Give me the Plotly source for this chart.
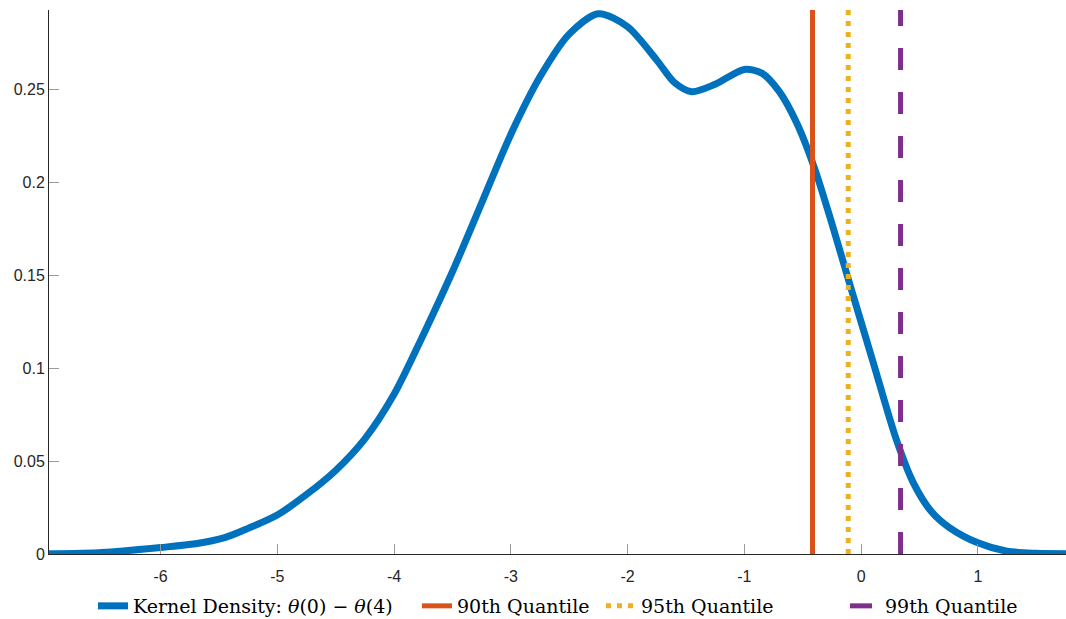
import plotly.graph_objects as go

# Kernel density curve
kd_x = [-6.955, -6.5, -6.0, -5.7, -5.45, -5.25, -5.0, -4.75, -4.5, -4.25, -4.0, -3.75, -3.5,
        -3.25, -3.0, -2.75, -2.5, -2.25, -2.0, -1.75, -1.6, -1.45, -1.25, -1.0, -0.85, -0.7,
        -0.55, -0.4, -0.25, -0.1, 0.1, 0.3, 0.45, 0.6, 0.75, 1.0, 1.25, 1.5, 1.755]
kd_y = [0.0001, 0.0008, 0.0035, 0.0055, 0.0088, 0.0138, 0.021, 0.032, 0.045, 0.062, 0.086,
        0.118, 0.152, 0.189, 0.226, 0.257, 0.280, 0.291, 0.284, 0.266, 0.254, 0.249, 0.253,
        0.261, 0.259, 0.249, 0.232, 0.208, 0.178, 0.146, 0.104, 0.062, 0.038, 0.023, 0.0145,
        0.006, 0.0015, 0.0004, 0.0002]

q90, q95, q99 = -0.416, -0.11, 0.338
y_top = 0.293

x_ticks = [-6, -5, -4, -3, -2, -1, 0, 1]
x_tick_text = ["-6", "-5", "-4", "-3", "-2", "-1", "0", "1"]
y_ticks = [0, 0.05, 0.1, 0.15, 0.2, 0.25]
y_tick_text = ["0", "0.05", "0.1", "0.15", "0.2", "0.25"]

blue, orange, yellow, purple = "#0072BD", "#D95319", "#EDB120", "#7E2F8E"

fig = go.Figure()
fig.add_trace(go.Scatter(x=kd_x, y=kd_y, mode="lines",
                         line=dict(color=blue, width=7, shape="spline", smoothing=0.8),
                         name="Kernel Density: <i>θ</i>(0) − <i>θ</i>(4)", legend="legend"))
fig.add_trace(go.Scatter(x=[q90, q90], y=[0, y_top], mode="lines", line=dict(color=orange, width=5),
                         name="90th Quantile", legend="legend2"))
fig.add_trace(go.Scatter(x=[q95, q95], y=[0, y_top], mode="lines",
                         line=dict(color=yellow, width=5, dash="5px,6px"),
                         name="95th Quantile", legend="legend3"))
fig.add_trace(go.Scatter(x=[q99, q99], y=[0, y_top], mode="lines",
                         line=dict(color=purple, width=5, dash="22px,22px"),
                         name="99th Quantile", legend="legend4"))

W, H = 1066, 619
L, R, T, B = 49, 0, 10, H - 554


def cx(px):
    return px / W


def cy(py):
    return 1 - py / H


leg_font = dict(family="DejaVu Serif", size=19, color="#000000")
common = dict(orientation="h", yanchor="middle", y=cy(606), xanchor="left",
              xref="container", yref="container",
              font=leg_font, bgcolor="rgba(0,0,0,0)", borderwidth=0, itemwidth=30)

fig.update_layout(
    width=W, height=H,
    margin=dict(l=L, r=R, t=T, b=B, autoexpand=False),
    plot_bgcolor="white", paper_bgcolor="white",
    showlegend=True,
    legend=dict(x=cx(133 - 40), **common),
    legend2=dict(x=cx(457 - 40), **common),
    legend3=dict(x=cx(641 - 40), **common),
    legend4=dict(x=cx(885 - 40), **common),
    xaxis=dict(range=[-6.955, 1.755], tickvals=x_ticks, ticktext=x_tick_text,
               ticks="inside", ticklen=10, tickcolor="#9a9a9a", tickwidth=1,
               showline=True, linecolor="#262626", linewidth=1, mirror=False,
               showgrid=False, zeroline=False, automargin=False, ticklabelstandoff=8,
               tickfont=dict(family="Liberation Sans", size=16, color="#262626")),
    yaxis=dict(range=[0, y_top], tickvals=y_ticks, ticktext=y_tick_text,
               ticks="inside", ticklen=10, tickcolor="#9a9a9a", tickwidth=1,
               showline=True, linecolor="#262626", linewidth=1, mirror=False,
               showgrid=False, zeroline=False, automargin=False,
               tickfont=dict(family="Liberation Sans", size=16, color="#262626")),
)

fig.write_html("out.html", config={"displayModeBar": False},
               post_script="document.body.style.margin='0';document.body.style.overflow='hidden';")
